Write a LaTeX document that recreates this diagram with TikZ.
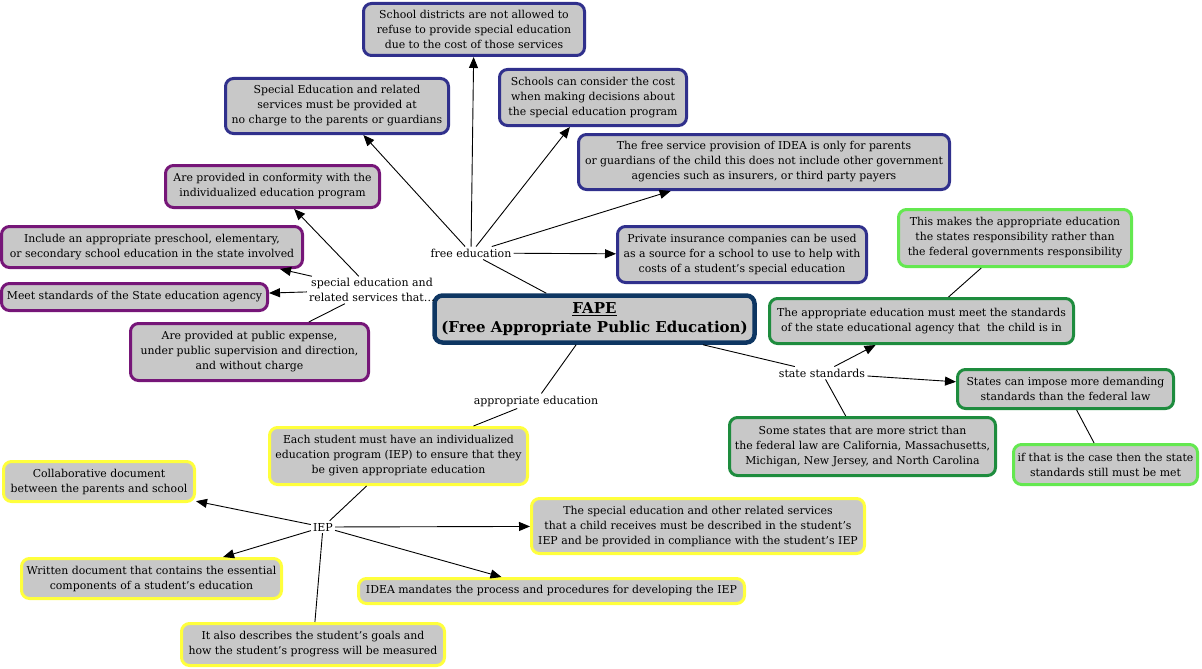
\documentclass[tikz,border=0pt]{standalone}
\usepackage{fontspec}
\setmainfont{DejaVu Serif}
\usetikzlibrary{arrows.meta}
\definecolor{boxgray}{RGB}{200,200,200}
\definecolor{bluec}{RGB}{48,48,140}
\definecolor{fapec}{RGB}{14,54,98}
\definecolor{purplec}{RGB}{118,22,120}
\definecolor{dgreenc}{RGB}{30,140,62}
\definecolor{lgreenc}{RGB}{100,232,80}
\definecolor{yellowc}{RGB}{255,255,60}
\tikzset{
  box/.style={draw, rounded corners=8pt, fill=boxgray, line width=3pt, align=center, inner sep=0pt, font=\fontsize{10.9}{15}\selectfont},
  bluebox/.style={box, draw=bluec},
  purplebox/.style={box, draw=purplec},
  dgreenbox/.style={box, draw=dgreenc},
  lgreenbox/.style={box, draw=lgreenc},
  yellowbox/.style={box, draw=yellowc},
  lab/.style={font=\fontsize{11}{14.5}\selectfont, align=center, inner sep=2pt},
  arr/.style={-{Triangle[length=11pt,width=9pt]}, line width=0.9pt},
  ln/.style={line width=0.9pt},
}
\begin{document}
\begin{tikzpicture}[x=1pt,y=-1pt]
\useasboundingbox (0,0) rectangle (1202,669);
% blue
\node[bluebox, minimum width=221pt, minimum height=52pt] (b1) at (474,29.5) {School districts are not allowed to\\refuse to provide special education\\due to the cost of those services};
\node[bluebox, minimum width=223pt, minimum height=55pt] (b2) at (337,106) {Special Education and related\\services must be provided at\\no charge to the parents or guardians};
\node[bluebox, minimum width=187pt, minimum height=56pt] (b3) at (593,97.5) {Schools can consider the cost\\when making decisions about\\the special education program};
\node[bluebox, minimum width=371pt, minimum height=55pt] (b4) at (764,162) {The free service provision of IDEA is only for parents\\or guardians of the child this does not include other government\\agencies such as insurers, or third party payers};
\node[bluebox, minimum width=249pt, minimum height=56pt] (b5) at (742,254.5) {Private insurance companies can be used\\as a source for a school to use to help with\\costs of a student's special education};
% center
\node[draw=fapec, rounded corners=8pt, fill=boxgray, line width=4.5pt, align=center, inner sep=0pt, minimum width=320pt, minimum height=47pt, font=\fontsize{15}{19}\selectfont\bfseries] (fape) at (594.5,319) {\underline{FAPE}\\(Free Appropriate Public Education)};
% purple
\node[purplebox, minimum width=214pt, minimum height=42pt] (b6) at (272.5,186.5) {Are provided in conformity with the\\individualized education program};
\node[purplebox, minimum width=301pt, minimum height=41pt] (b7) at (152,247) {Include an appropriate preschool, elementary,\\or secondary school education in the state involved};
\node[purplebox, minimum width=266pt, minimum height=27pt] (b8) at (134.5,297) {Meet standards of the State education agency};
\node[purplebox, minimum width=238pt, minimum height=57pt] (b9) at (249.5,352) {Are provided at public expense,\\under public supervision and direction,\\and without charge};
% green
\node[lgreenbox, minimum width=233pt, minimum height=57pt] (b10) at (1015,238) {This makes the appropriate education\\the states responsibility rather than\\the federal governments responsibility};
\node[dgreenbox, minimum width=304pt, minimum height=45pt] (b11) at (921.5,321) {The appropriate education must meet the standards\\of the state educational agency that\ \ the child is in};
\node[dgreenbox, minimum width=216pt, minimum height=39pt] (b12) at (1065.5,389) {States can impose more demanding\\standards than the federal law};
\node[dgreenbox, minimum width=266pt, minimum height=58pt] (b13) at (862.5,446.5) {Some states that are more strict than\\the federal law are California, Massachusetts,\\Michigan, New Jersey, and North Carolina};
\node[lgreenbox, minimum width=184pt, minimum height=40pt] (b14) at (1105.5,464.5) {if that is the case then the state\\standards still must be met};
% yellow
\node[yellowbox, minimum width=258pt, minimum height=57pt] (b15) at (398.5,456) {Each student must have an individualized\\education program (IEP) to ensure that they\\be given appropriate education};
\node[yellowbox, minimum width=191pt, minimum height=40pt] (b16) at (99,481.5) {Collaborative document\\between the parents and school};
\node[yellowbox, minimum width=333pt, minimum height=55pt] (b17) at (698,526) {The special education and other related services\\that a child receives must be described in the student's\\IEP and be provided in compliance with the student's IEP};
\node[yellowbox, minimum width=260pt, minimum height=40pt] (b18) at (151.5,578.5) {Written document that contains the essential\\components of a student's education};
\node[yellowbox, minimum width=386pt, minimum height=25pt] (b19) at (551.5,591) {IDEA mandates the process and procedures for developing the IEP};
\node[yellowbox, minimum width=263pt, minimum height=42pt] (b20) at (313,644.5) {It also describes the student's goals and\\how the student's progress will be measured};
% labels
\node[lab] (fe) at (471,253) {free education};
\node[lab] (se) at (372,290) {special education and\\related services that…};
\node[lab] (ae) at (536,401) {appropriate education};
\node[lab] (ss) at (822,373) {state standards};
\node[lab] (iep) at (323,527) {IEP};
% connectors
\draw[ln] (fape) -- (fe);
\draw[arr] (fe) -- (b1);
\draw[arr] (fe) -- (b2);
\draw[arr] (fe) -- (b3);
\draw[arr] (fe) -- (b4);
\draw[arr] (fe) -- (b5);
\draw[arr] (se) -- (b6);
\draw[arr] (se) -- ([xshift=-24pt]b7.south east);
\draw[arr] (se) -- (b8);
\draw[ln] (se) -- (b9);
\draw[ln] (fape) -- (ae);
\draw[ln] (ae) -- (b15);
\draw[ln] (b15) -- (iep);
\draw[arr] (iep) -- (b16);
\draw[arr] (iep) -- (b18);
\draw[ln] (iep) -- (b20);
\draw[arr] (iep) -- (b17);
\draw[arr] (iep) -- (b19);
\draw[ln] (fape) -- (ss);
\draw[arr] (ss) -- (b11);
\draw[arr] (ss) -- (b12);
\draw[ln] (ss) -- (b13);
\draw[ln] (b11) -- (b10);
\draw[ln] (b12) -- (b14);
\end{tikzpicture}
\end{document}
